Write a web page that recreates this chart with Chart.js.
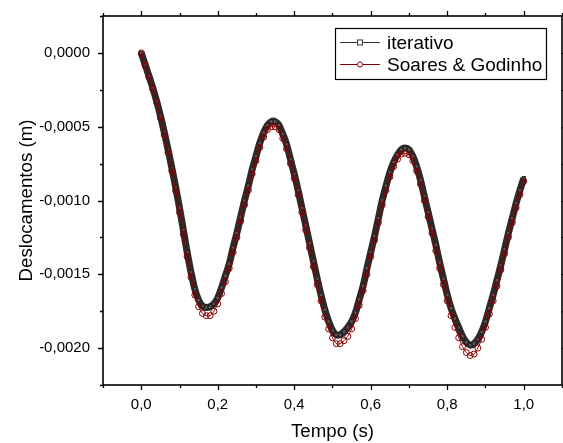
<!DOCTYPE html>
<html>
<head>
<meta charset="utf-8">
<script src="https://cdn.jsdelivr.net/npm/chart.js@4.4.1/dist/chart.umd.min.js"></script>
<style>
	html, body { margin: 0; padding: 0; background: #fff; }
	#wrap { width: 563px; height: 443px; }
</style>
</head>
<body>
<div id="wrap"><canvas id="c" width="563" height="443"></canvas></div>
<script>
// tempo (s), passo 0,01
var tempo = [];
for (var i = 0; i <= 100; i++) tempo.push(i / 100);

// deslocamentos (m)
var iterativo = [
	0, -0.000078, -0.000156, -0.000236, -0.000325, -0.000425, -0.000535, -0.000655, -0.000780, -0.000910,
	-0.001050, -0.001200, -0.001350, -0.001485, -0.001600, -0.001675, -0.001715, -0.001725, -0.001720, -0.001700,
	-0.001660, -0.001590, -0.001510, -0.001430, -0.001320, -0.001220, -0.001110, -0.001000, -0.000900, -0.000790,
	-0.000700, -0.000610, -0.000540, -0.000490, -0.000465, -0.000465, -0.000490, -0.000550, -0.000620, -0.000720,
	-0.000820, -0.000930, -0.001050, -0.001170, -0.001290, -0.001410, -0.001530, -0.001640, -0.001740, -0.001820,
	-0.001880, -0.001910, -0.001910, -0.001890, -0.001860, -0.001820, -0.001760, -0.001670, -0.001580, -0.001460,
	-0.001350, -0.001240, -0.001120, -0.001000, -0.000900, -0.000810, -0.000740, -0.000690, -0.000655, -0.000645,
	-0.000655, -0.000700, -0.000770, -0.000860, -0.000970, -0.001080, -0.001190, -0.001300, -0.001420, -0.001530,
	-0.001640, -0.001730, -0.001800, -0.001860, -0.001920, -0.001960, -0.001980, -0.001970, -0.001940, -0.001890,
	-0.001820, -0.001730, -0.001640, -0.001540, -0.001440, -0.001330, -0.001220, -0.001120, -0.001020, -0.000930,
	-0.000850
];
var soaresGodinho = [
	0, -0.000085, -0.000165, -0.000245, -0.000335, -0.000440, -0.000555, -0.000675, -0.000800, -0.000935,
	-0.001080, -0.001230, -0.001380, -0.001520, -0.001640, -0.001720, -0.001765, -0.001780, -0.001780, -0.001750,
	-0.001700, -0.001630, -0.001550, -0.001460, -0.001350, -0.001250, -0.001140, -0.001030, -0.000930, -0.000820,
	-0.000730, -0.000640, -0.000570, -0.000520, -0.000500, -0.000500, -0.000520, -0.000580, -0.000650, -0.000750,
	-0.000850, -0.000960, -0.001080, -0.001200, -0.001320, -0.001450, -0.001570, -0.001680, -0.001790, -0.001870,
	-0.001930, -0.001970, -0.001970, -0.001950, -0.001920, -0.001870, -0.001800, -0.001710, -0.001610, -0.001500,
	-0.001380, -0.001270, -0.001150, -0.001030, -0.000930, -0.000840, -0.000770, -0.000720, -0.000685, -0.000680,
	-0.000690, -0.000730, -0.000800, -0.000890, -0.001000, -0.001110, -0.001220, -0.001340, -0.001460, -0.001570,
	-0.001680, -0.001780, -0.001860, -0.001930, -0.001990, -0.002030, -0.002050, -0.002040, -0.002000, -0.001940,
	-0.001860, -0.001770, -0.001680, -0.001580, -0.001470, -0.001360, -0.001250, -0.001150, -0.001050, -0.000960,
	-0.000870
];

var xMajor = [0, 0.2, 0.4, 0.6, 0.8, 1.0];
var xMinor = [-0.1, 0.1, 0.3, 0.5, 0.7, 0.9, 1.1];
var yMajor = [0, -0.0005, -0.001, -0.0015, -0.002];
var yMinor = [0.00025, -0.00025, -0.00075, -0.00125, -0.00175, -0.00225];

var FONT = 'Arial, "Liberation Sans", sans-serif';
var PRETO = '#2b2b2b';
var VERMELHO = '#8b0000';

function pares(ys) {
	return tempo.map(function(t, i) { return { x: t, y: ys[i] }; });
}

function semPadding(s) {
	s.paddingTop = 0;
	s.paddingBottom = 0;
	s.paddingLeft = 0;
	s.paddingRight = 0;
}

// moldura, ticks para fora e legenda
var moldura = {
	id: 'moldura',
	afterDraw: function(chart) {
		var ctx = chart.ctx, a = chart.chartArea;
		var sx = chart.scales.x, sy = chart.scales.y;
		ctx.save();
		ctx.strokeStyle = '#000';
		ctx.lineWidth = 1.6;
		ctx.strokeRect(a.left, a.top, a.right - a.left, a.bottom - a.top);

		function tx(v, len) {
			var p = Math.round(sx.getPixelForValue(v)) + 0.5;
			ctx.beginPath();
			ctx.moveTo(p, a.bottom); ctx.lineTo(p, a.bottom + len);
			ctx.moveTo(p, a.top); ctx.lineTo(p, a.top - len);
			ctx.stroke();
		}
		function ty(v, len) {
			var p = Math.round(sy.getPixelForValue(v)) + 0.5;
			ctx.beginPath();
			ctx.moveTo(a.left, p); ctx.lineTo(a.left - len, p);
			ctx.moveTo(a.right, p); ctx.lineTo(a.right + len, p);
			ctx.stroke();
		}
		ctx.lineWidth = 1.3;
		xMajor.forEach(function(v) { tx(v, 5); });
		xMinor.forEach(function(v) { tx(v, 3); });
		yMajor.forEach(function(v) { ty(v, 5); });
		yMinor.forEach(function(v) { ty(v, 3); });

		// legenda
		var bx = 335, by = 28, bw = 211, bh = 51;
		ctx.fillStyle = '#fff';
		ctx.fillRect(bx, by, bw, bh);
		ctx.lineWidth = 1.2;
		ctx.strokeStyle = '#000';
		ctx.strokeRect(bx + 0.5, by + 0.5, bw, bh);
		var linhas = [42, 64];
		chart.data.datasets.forEach(function(ds, i) {
			var y = linhas[i] + 0.5;
			ctx.strokeStyle = ds.legendColor;
			ctx.lineWidth = 1;
			ctx.beginPath();
			ctx.moveTo(340, y); ctx.lineTo(380, y);
			ctx.stroke();
			ctx.fillStyle = '#fff';
			if (ds.pointStyle === 'rect') {
				ctx.fillRect(357.5, y - 2.5, 5, 5);
				ctx.strokeRect(357.5, y - 2.5, 5, 5);
			} else {
				ctx.beginPath();
				ctx.arc(360, y, 2.6, 0, Math.PI * 2);
				ctx.fill();
				ctx.stroke();
			}
			ctx.fillStyle = '#000';
			ctx.font = '19px ' + FONT;
			ctx.textBaseline = 'middle';
			ctx.textAlign = 'left';
			ctx.fillText(ds.label, 387, y + 1);
		});
		ctx.restore();
	}
};

function virgula(v, casas) {
	var s = Math.abs(v) < 1e-12 ? (0).toFixed(casas) : v.toFixed(casas);
	return s.replace('.', ',');
}

var chart = new Chart(document.getElementById('c'), {
	type: 'line',
	data: {
		datasets: [
			{
				label: 'iterativo',
				data: pares(iterativo),
				borderColor: PRETO,
				borderWidth: 7,
				pointStyle: 'rect',
				pointRadius: 2.5,
				pointBorderWidth: 1,
				pointBorderColor: '#222',
				pointBackgroundColor: '#5a5a5a',
				legendColor: '#333',
				tension: 0.3,
				order: 2
			},
			{
				label: 'Soares & Godinho',
				data: pares(soaresGodinho),
				borderColor: VERMELHO,
				borderWidth: 1,
				pointStyle: 'circle',
				pointRadius: 3,
				pointBorderWidth: 1,
				pointBorderColor: VERMELHO,
				pointBackgroundColor: 'rgba(0,0,0,0)',
				legendColor: VERMELHO,
				tension: 0.3,
				order: 1
			}
		]
	},
	options: {
		responsive: false,
		animation: false,
		layout: { autoPadding: false, padding: { top: 16, right: 1, left: 0, bottom: 0 } },
		plugins: { legend: { display: false }, tooltip: { enabled: false } },
		scales: {
			x: {
				type: 'linear',
				min: -0.1,
				max: 1.1,
				afterBuildTicks: function(s) { s.ticks = xMajor.map(function(v) { return { value: v }; }); },
				afterFit: function(s) { s.height = 58; semPadding(s); },
				grid: { display: false, drawTicks: false },
				border: { display: false },
				ticks: {
					autoSkip: false,
					maxRotation: 0,
					padding: 11,
					color: '#000',
					font: { family: FONT, size: 15 },
					callback: function(v) { return virgula(v, 1); }
				},
				title: {
					display: true,
					text: 'Tempo (s)',
					color: '#000',
					font: { family: FONT, size: 18.7 },
					padding: { top: 0, bottom: 0 }
				}
			},
			y: {
				type: 'linear',
				min: -0.00225,
				max: 0.00025,
				afterBuildTicks: function(s) { s.ticks = yMajor.map(function(v) { return { value: v }; }); },
				afterFit: function(s) { s.width = 103; semPadding(s); },
				grid: { display: false, drawTicks: false },
				border: { display: false },
				ticks: {
					autoSkip: false,
					padding: 13,
					color: '#000',
					font: { family: FONT, size: 15 },
					callback: function(v) { return virgula(v, 4); }
				},
				title: {
					display: true,
					text: 'Deslocamentos (m)',
					color: '#000',
					font: { family: FONT, size: 18.7 },
					padding: { top: 16, bottom: 0 }
				}
			}
		}
	},
	plugins: [moldura]
});
</script>
</body>
</html>
